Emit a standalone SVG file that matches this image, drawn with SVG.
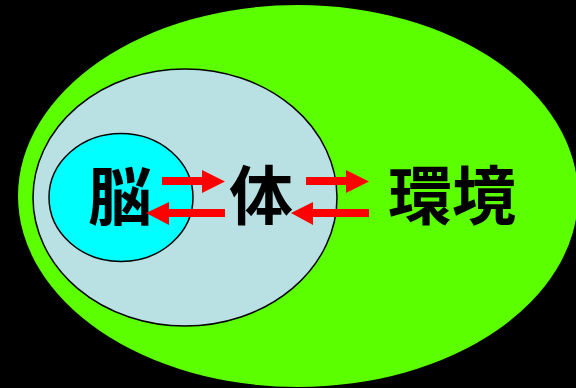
<svg xmlns="http://www.w3.org/2000/svg" width="576" height="388" viewBox="0 0 576 388">
<style>
.lbl{font-family:"Noto Sans CJK JP","Noto Sans CJK SC",sans-serif;font-weight:bold;font-size:64px;fill:#000;text-anchor:middle}
.arr{fill:#ff0000}
.ring{stroke:#000;stroke-width:1.5}
</style>
<rect width="576" height="388" fill="#000"/>
<g id="env">
<ellipse cx="298" cy="196" rx="280" ry="191" fill="#5cff00"/>
<text class="lbl" x="452" y="219">環境</text>
</g>
<g id="body">
<ellipse class="ring" cx="185" cy="197.5" rx="152" ry="128.5" fill="#b9e0e3"/>
<text class="lbl" x="261" y="219">体</text>
</g>
<g id="brain">
<ellipse class="ring" cx="121" cy="197.5" rx="72" ry="64" fill="#00ffff"/>
<text class="lbl" x="120" y="220">脳</text>
</g>
<g id="connectors">
<polygon class="arr" points="162,177 202,177 202,170 225,181.5 202,193 202,185 162,185"/>
<polygon class="arr" points="225,209 169,209 169,202 146,213 169,225 169,217 225,217"/>
<polygon class="arr" points="306,177 346,177 346,170 369,181.5 346,193 346,185 306,185"/>
<polygon class="arr" points="369,209 313,209 313,202 291,213 313,225 313,217 369,217"/>
</g>
</svg>
